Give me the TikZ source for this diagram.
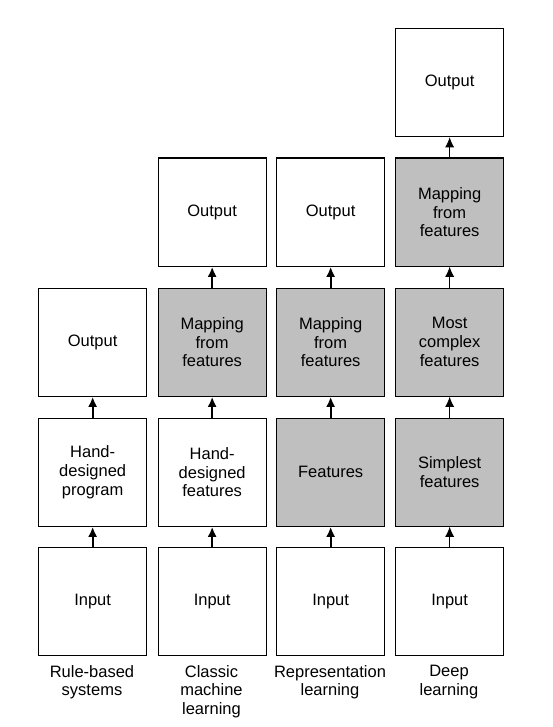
\documentclass[tikz,border=0pt]{standalone}
\usepackage{fontspec}
\setmainfont{Liberation Sans}
\usetikzlibrary{arrows.meta}
\begin{document}
\begin{tikzpicture}[x=1pt,y=-1pt,
  box/.style={draw=black,line width=1.3pt,minimum width=108pt,minimum height=108pt,inner sep=0pt,align=center,font=\fontsize{16.5}{18.8}\selectfont,anchor=north west},
  wbox/.style={box,fill=white},
  gbox/.style={box,fill=black!25},
  lab/.style={anchor=north,inner sep=0pt,align=center,font=\fontsize{16.5}{18.8}\selectfont},
  arr/.style={line width=2pt,-{Latex[length=10pt,width=9pt]}},
  tarr/.style={line width=0.8pt,-{Latex[length=10pt,width=9pt]}}]
\useasboundingbox (0,0) rectangle (553,727);
% column 1
\node[wbox] (a1) at (38,547) {Input};
\node[wbox] (a2) at (38,417.5) {Hand-\\designed\\program};
\node[wbox] (a3) at (38,287.5) {Output};
% column 2
\node[wbox] (b1) at (157.5,547) {Input};
\node[wbox] (b2) at (157.5,417.5) {Hand-\\designed\\features};
\node[gbox] (b3) at (157.5,287.5) {Mapping\\from\\features};
\node[wbox] (b4) at (157.5,157.5) {Output};
% column 3
\node[wbox] (c1) at (276,547) {Input};
\node[gbox] (c2) at (276,417.5) {Features};
\node[gbox] (c3) at (276,287.5) {Mapping\\from\\features};
\node[wbox] (c4) at (276,157.5) {Output};
% column 4
\node[wbox] (d1) at (395,547) {Input};
\node[gbox] (d2) at (395,417.5) {Simplest\\features};
\node[gbox] (d3) at (395,287.5) {Most\\complex\\features};
\node[gbox] (d4) at (395,157.5) {Mapping\\from\\features};
\node[wbox] (d5) at (395,28) {Output};
% arrows
\draw[arr] (a1.north) -- (a2.south);
\draw[arr] (a2.north) -- (a3.south);
\draw[arr] (b1.north) -- (b2.south);
\draw[arr] (b2.north) -- (b3.south);
\draw[arr] (b3.north) -- (b4.south);
\draw[arr] (c1.north) -- (c2.south);
\draw[arr] (c2.north) -- (c3.south);
\draw[arr] (c3.north) -- (c4.south);
\draw[tarr] (d1.north) -- (d2.south);
\draw[tarr] (d2.north) -- (d3.south);
\draw[tarr] (d3.north) -- (d4.south);
\draw[tarr] (d4.north) -- (d5.south);
% labels
\node[lab] (la) at (92,665) {Rule-based\\systems};
\node[lab] (lb) at (211.5,665) {Classic\\machine\\learning};
\node[lab] (lc) at (330,665) {Representation\\learning};
\node[lab] (ld) at (449,665) {Deep\\learning};
\end{tikzpicture}
\end{document}
